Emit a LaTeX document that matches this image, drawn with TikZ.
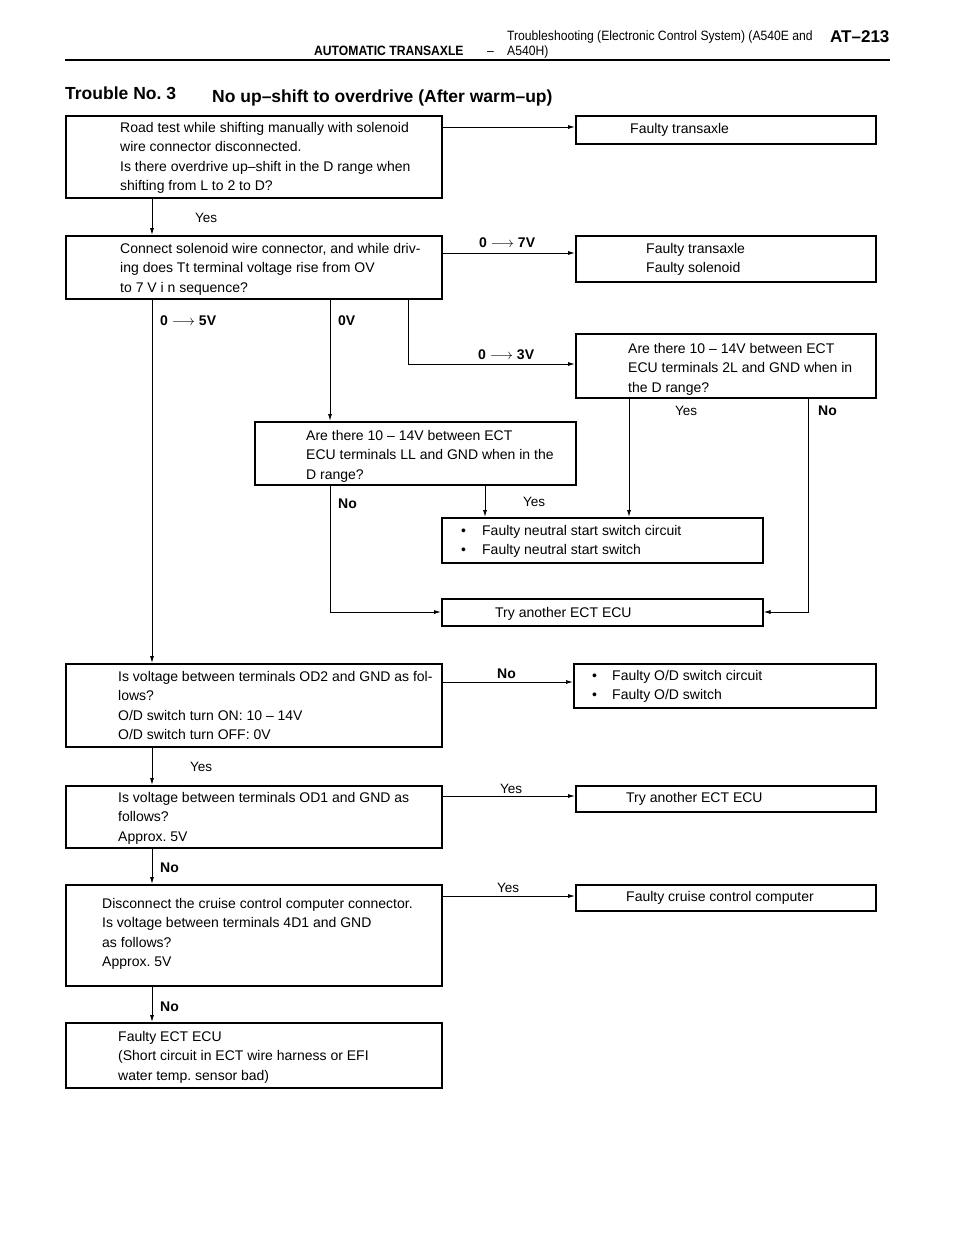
\documentclass[tikz,border=0pt]{standalone}
\usepackage{fontspec}
\setmainfont{Liberation Sans}
\newfontfamily\narrowfont[FakeStretch=0.9]{Liberation Sans}
\usetikzlibrary{calc,arrows.meta}
\frenchspacing
\begin{document}
\begin{tikzpicture}[x=1pt,y=-1pt,
 box/.style={draw, line width=1.5pt, rectangle, inner sep=0pt, anchor=north west},
 txt/.style={anchor=north west, inner sep=0pt, align=left, font=\fontsize{14}{19.4}\selectfont},
 one/.style={anchor=base west, inner sep=0pt, font=\fontsize{14}{16}\selectfont},
 yes/.style={anchor=base west, inner sep=0pt, font=\fontsize{13.5}{15}\selectfont},
 blbl/.style={anchor=base west, inner sep=0pt, font=\fontsize{14}{16}\selectfont\bfseries},
 hdr/.style={anchor=base west, inner sep=0pt, font=\fontsize{13.5}{15}\selectfont\narrowfont},
 conn/.style={line width=0.9pt},
 arr/.style={conn, -{Latex[length=7pt,width=4pt]}},
]
\useasboundingbox[fill=white] (0,0) rectangle (960,1242);
% header
\node[hdr] (h1) at (507,40) {Troubleshooting (Electronic Control System) (A540E and};
\node[hdr] (h2) at (507,55) {A540H)};
\node[hdr, font=\fontsize{13.5}{15}\selectfont\narrowfont\bfseries] (h3) at (314,55) {AUTOMATIC TRANSAXLE};
\node[hdr] (h4) at (487,55) {–};
\node[anchor=base west, inner sep=0pt, font=\fontsize{17}{20}\selectfont\bfseries] (h5) at (830,42) {AT–213};
\draw[line width=1.8pt] (65,60) coordinate (r1) -- (890,60) coordinate (r2);
% title
\node[anchor=base west, inner sep=0pt, font=\fontsize{17.5}{20}\selectfont\bfseries] (t1t) at (65,99) {Trouble No. 3};
\node[anchor=base west, inner sep=0pt, font=\fontsize{17.5}{20}\selectfont\bfseries] (t2t) at (212,102) {No up–shift to overdrive (After warm–up)};
% boxes
\node[box, minimum width=376pt, minimum height=82pt] (b1) at (65,115) {};
\node[txt] at (120,122) {Road test while shifting manually with solenoid\\wire connector disconnected.\\Is there overdrive up–shift in the D range when\\shifting from L to 2 to D?};
\node[box, minimum width=300pt, minimum height=28pt] (f1) at (575,115) {};
\node[one] at (630,133) {Faulty transaxle};
\node[box, minimum width=376pt, minimum height=63pt] (b2) at (65,235) {};
\node[txt] at (120,243) {Connect solenoid wire connector, and while driv-\\ing does Tt terminal voltage rise from OV\\to 7 V i n sequence?};
\node[box, minimum width=300pt, minimum height=46pt] (f2) at (575,235) {};
\node[txt] at (646,243) {Faulty transaxle\\Faulty solenoid};
\node[box, minimum width=300pt, minimum height=64pt] (b4) at (575,333) {};
\node[txt] at (628,343) {Are there 10 – 14V between ECT\\ECU terminals 2L and GND when in\\the D range?};
\node[box, minimum width=321pt, minimum height=63pt] (b3) at (254,421) {};
\node[txt] at (306,430) {Are there 10 – 14V between ECT\\ECU terminals LL and GND when in the\\D range?};
\node[box, minimum width=321pt, minimum height=45pt] (n1) at (441,517) {};
\node[txt] at (461,525) {\makebox[21pt][l]{•}Faulty neutral start switch circuit\\\makebox[21pt][l]{•}Faulty neutral start switch};
\node[box, minimum width=321pt, minimum height=27pt] (t1) at (441,598) {};
\node[one] at (495,617) {Try another ECT ECU};
\node[box, minimum width=376pt, minimum height=83pt] (b5) at (65,663) {};
\node[txt] at (118,671) {Is voltage between terminals OD2 and GND as fol-\\lows?\\O/D switch turn ON: 10 – 14V\\O/D switch turn OFF: 0V};
\node[box, minimum width=302pt, minimum height=44pt] (f5) at (573,663) {};
\node[txt] at (592,670) {\makebox[20pt][l]{•}Faulty O/D switch circuit\\\makebox[20pt][l]{•}Faulty O/D switch};
\node[box, minimum width=376pt, minimum height=62pt] (b6) at (65,785) {};
\node[txt] at (118,792) {Is voltage between terminals OD1 and GND as\\follows?\\Approx. 5V};
\node[box, minimum width=300pt, minimum height=26pt] (t2) at (575,785) {};
\node[one] at (626,802) {Try another ECT ECU};
\node[box, minimum width=376pt, minimum height=101pt] (b7) at (65,884) {};
\node[txt] at (102,898) {Disconnect the cruise control computer connector.\\Is voltage between terminals 4D1 and GND\\as follows?\\Approx. 5V};
\node[box, minimum width=300pt, minimum height=26pt] (f7) at (575,884) {};
\node[one] at (626,901) {Faulty cruise control computer};
\node[box, minimum width=376pt, minimum height=65pt] (b8) at (65,1022) {};
\node[txt] at (118,1031) {Faulty ECT ECU\\(Short circuit in ECT wire harness or EFI\\water temp. sensor bad)};
% column coordinates
\coordinate (cA) at (152,0);
\coordinate (cB) at (330,0);
\coordinate (cC) at (408,0);
\coordinate (cD) at (485,0);
\coordinate (cE) at (629,0);
\coordinate (cF) at (808,0);
\coordinate (yT) at (0,612);
% connectors
\draw[arr] (b1.north east |- 0,127) -- (f1.north west |- 0,127);
\draw[arr] (cA |- b1.south) -- (cA |- b2.north);
\node[yes] (l1) at (195,222) {Yes};
\draw[arr] (b2.north east |- 0,253) -- (f2.north west |- 0,253);
\node[blbl] (l2) at (479,247) {0 $\longrightarrow$ 7V};
\draw[arr] (cA |- b2.south) -- (cA |- b5.north);
\node[blbl] (l3) at (160,325) {0 $\longrightarrow$ 5V};
\draw[arr] (cB |- b2.south) -- (cB |- b3.north);
\node[blbl] (l4) at (338,325) {0V};
\draw[arr] (cC |- b2.south) -- (cC |- 0,364) -- (b4.north west |- 0,364);
\node[blbl] (l5) at (478,359) {0 $\longrightarrow$ 3V};
\draw[arr] (cE |- b4.south) -- (cE |- n1.north);
\node[yes] (l6) at (675,415) {Yes};
\draw[arr] (cF |- b4.south) -- (cF |- yT) -- (t1.east |- yT);
\node[blbl] (l7) at (818,415) {No};
\draw[arr] (cB |- b3.south) -- (cB |- yT) -- (t1.west |- yT);
\node[blbl] (l8) at (338,508) {No};
\draw[arr] (cD |- b3.south) -- (cD |- n1.north);
\node[yes] (l9) at (523,506) {Yes};
\draw[arr] (b5.north east |- 0,682) -- (f5.north west |- 0,682);
\node[blbl] (l10) at (497,678) {No};
\draw[arr] (cA |- b5.south) -- (cA |- b6.north);
\node[yes] (l11) at (190,771) {Yes};
\draw[arr] (b6.north east |- 0,796) -- (t2.north west |- 0,796);
\node[yes] (l12) at (500,793) {Yes};
\draw[arr] (cA |- b6.south) -- (cA |- b7.north);
\node[blbl] (l13) at (160,872) {No};
\draw[arr] (b7.north east |- 0,896) -- (f7.north west |- 0,896);
\node[yes] (l14) at (497,892) {Yes};
\draw[arr] (cA |- b7.south) -- (cA |- b8.north);
\node[blbl] (l15) at (160,1011) {No};
\end{tikzpicture}
\end{document}
